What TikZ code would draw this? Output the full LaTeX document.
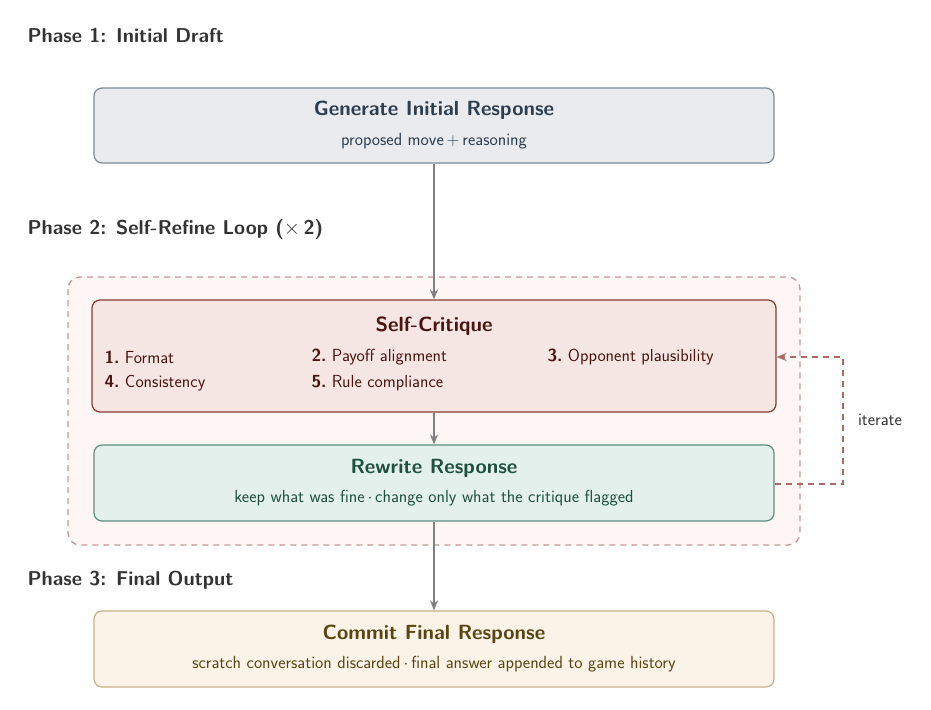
\documentclass[tikz,border=0pt]{standalone}
\usepackage{fontspec}
\usetikzlibrary{arrows.meta}
\begin{document}
\begin{tikzpicture}[x=1pt,y=-1pt,font=\sffamily,
 box/.style={draw,rounded corners=8pt,line width=1.2pt,inner sep=0pt},
 ttl/.style={font=\fontsize{20.5}{24}\selectfont\sffamily\bfseries},
 sub/.style={font=\fontsize{17.5}{20}\selectfont\sffamily},
 ph/.style={font=\fontsize{20}{24}\selectfont\sffamily\bfseries,text=black!80,anchor=west},
 arr/.style={draw=black!50,line width=1.6pt,-{Stealth[length=10pt,width=8pt]}}]
\definecolor{gfill}{HTML}{E9EBEF}\definecolor{gline}{HTML}{7F8A95}\definecolor{gtext}{HTML}{2C3E50}
\definecolor{rfill}{HTML}{F5E6E4}\definecolor{rline}{HTML}{8B3A2F}\definecolor{rtext}{HTML}{4A1510}
\definecolor{tfill}{HTML}{E4F0EC}\definecolor{tline}{HTML}{5E8F7F}\definecolor{ttext}{HTML}{1F5140}
\definecolor{yfill}{HTML}{FBF3E8}\definecolor{yline}{HTML}{C8B08A}\definecolor{ytext}{HTML}{5A4410}
\definecolor{cfill}{HTML}{FDF6F5}\definecolor{cline}{HTML}{C09A98}\definecolor{iter}{HTML}{A86C64}
\useasboundingbox (0,0) rectangle (931,709);
\fill[white] (0,0) rectangle (931,709);
\node[ph] (p1) at (24,35) {Phase 1: Initial Draft};
\node[ph] (p2) at (24,229) {Phase 2: Self-Refine Loop ($\times\,$2)};
\node[ph] (p3) at (24,580) {Phase 3: Final Output};
\draw[cline,fill=cfill,dashed,dash pattern=on 6pt off 5pt,line width=1.3pt,rounded corners=12pt] (68,277) rectangle (800,545);
\node[box,draw=gline,fill=gfill,minimum width=680pt,minimum height=75pt] (init) at (434,125.5) {};
\node[ttl,text=gtext] at (434,110) {Generate Initial Response};
\node[sub,text=gtext] at (434,141) {proposed move\,+\,reasoning};
\node[box,draw=rline,fill=rfill,minimum width=684pt,minimum height=112pt] (crit) at (434,356) {};
\node[ttl,text=rtext] at (434,326) {Self-Critique};
\begin{scope}[every node/.style={sub,text=rtext,anchor=west}]
\node at (101,357) {\textbf{1.}\ Format};
\node at (308,357) {\textbf{2.}\ Payoff alignment};
\node at (544,357) {\textbf{3.}\ Opponent plausibility};
\node at (101,383) {\textbf{4.}\ Consistency};
\node at (308,383) {\textbf{5.}\ Rule compliance};
\end{scope}
\node[box,draw=tline,fill=tfill,minimum width=680pt,minimum height=76pt] (rew) at (434,483) {};
\node[ttl,text=ttext] at (434,468) {Rewrite Response};
\node[sub,text=ttext] at (434,498) {keep what was fine\,$\cdot$\,change only what the critique flagged};
\node[box,draw=yline,fill=yfill,minimum width=680pt,minimum height=76pt] (fin) at (434,649) {};
\node[ttl,text=ytext] at (434,634) {Commit Final Response};
\node[sub,text=ytext] at (434,664) {scratch conversation discarded\,$\cdot$\,final answer appended to game history};
\draw[arr] (init.south) -- (crit.north);
\draw[arr] (crit.south) -- (rew.north);
\draw[arr] (rew.south) -- (fin.north);
\coordinate (c1) at (843,484);\coordinate (c2) at (843,357);
\draw[iter,line width=1.6pt,dashed,dash pattern=on 6pt off 5pt,-{Stealth[length=10pt,width=8pt]}] (rew.east|-c1) -- (c1) -- (c2) -- (crit.east|-c2);
\node[sub,text=black!80] (it) at (880,420) {iterate};
\end{tikzpicture}
\end{document}
